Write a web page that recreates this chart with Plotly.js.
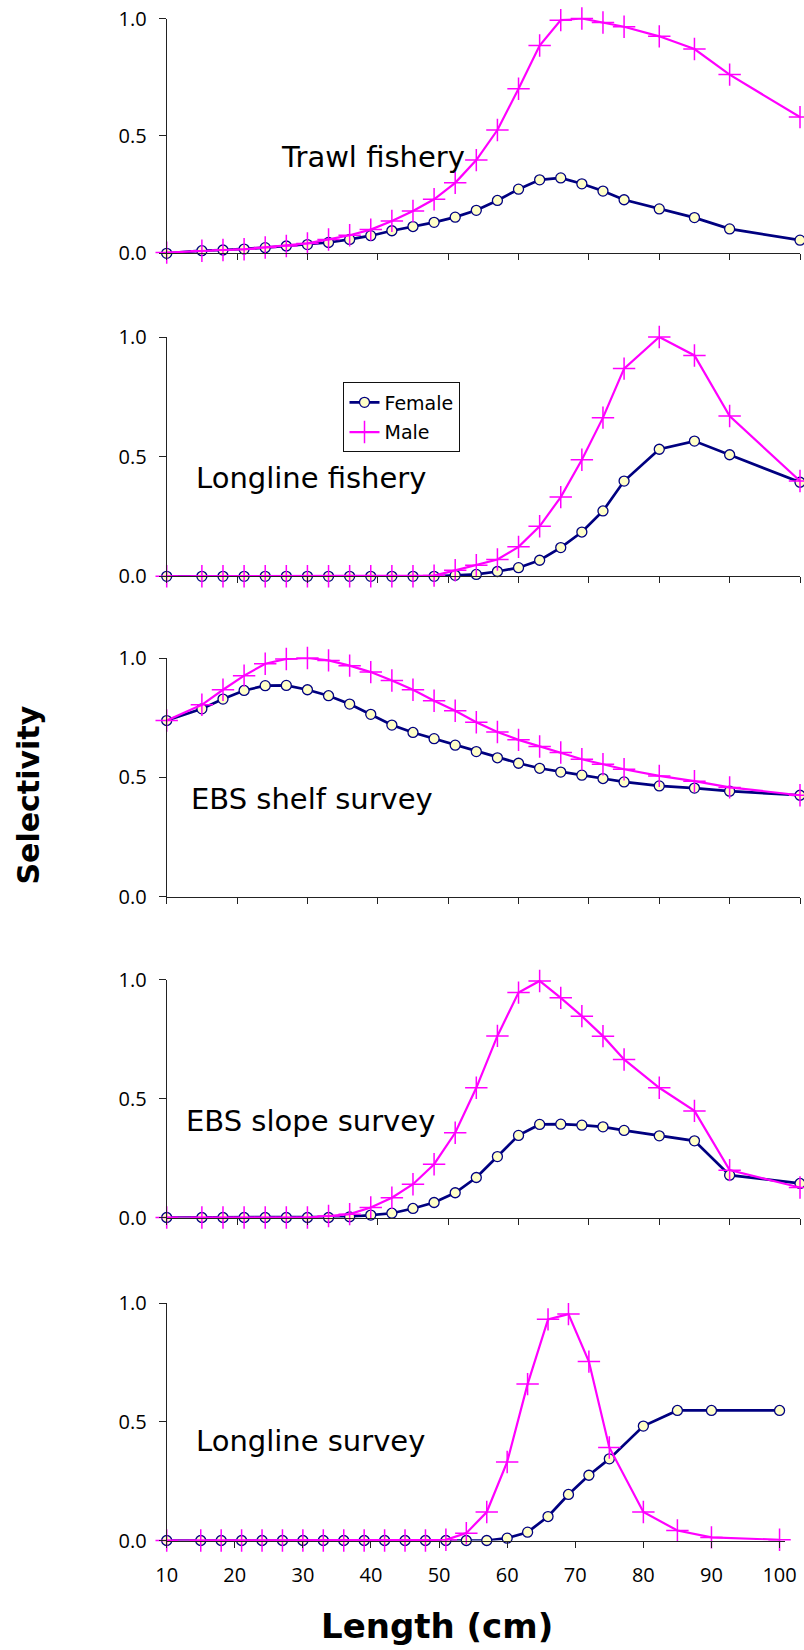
<!DOCTYPE html>
<html>
<head>
<meta charset="utf-8">
<script src="https://cdn.plot.ly/plotly-3.0.1.min.js"></script>
<style>
  html, body { margin: 0; padding: 0; background: #ffffff; }
  #chart { width: 804px; height: 1650px; }
</style>
</head>
<body>
<div id="chart"></div>
<script>
// ---- Data ----
const lengthCm = [10, 15, 18, 21, 24, 27, 30, 33, 36, 39, 42, 45, 48, 51, 54, 57, 60, 63, 66, 69, 72, 75, 80, 85, 90, 100];

const panelTitles = ["Trawl fishery", "Longline fishery", "EBS shelf survey", "EBS slope survey", "Longline survey"];
const seriesNames = ["Female", "Male"];

const trawlFemale = [0.0, 0.011, 0.014, 0.018, 0.024, 0.031, 0.037, 0.046, 0.059, 0.075, 0.096, 0.114, 0.132, 0.154, 0.183, 0.225, 0.273, 0.313, 0.321, 0.296, 0.265, 0.228, 0.189, 0.152, 0.104, 0.056];
const trawlMale   = [0.003, 0.011, 0.014, 0.017, 0.025, 0.031, 0.042, 0.059, 0.077, 0.101, 0.138, 0.180, 0.230, 0.300, 0.397, 0.525, 0.701, 0.885, 0.993, 1.0, 0.983, 0.965, 0.924, 0.870, 0.761, 0.580];

const longlineFisheryFemale = [0, 0, 0, 0, 0, 0, 0, 0, 0, 0, 0, 0, 0.0, 0.004, 0.008, 0.020, 0.036, 0.067, 0.120, 0.185, 0.273, 0.398, 0.531, 0.565, 0.508, 0.393];
const longlineFisheryMale   = [0, 0, 0, 0, 0, 0, 0, 0, 0, 0, 0, 0, 0.003, 0.025, 0.046, 0.070, 0.123, 0.209, 0.331, 0.487, 0.663, 0.868, 1.0, 0.923, 0.670, 0.398];

const shelfFemale = [0.738, 0.787, 0.828, 0.864, 0.884, 0.885, 0.867, 0.842, 0.807, 0.764, 0.719, 0.688, 0.662, 0.635, 0.608, 0.582, 0.559, 0.538, 0.522, 0.509, 0.495, 0.481, 0.464, 0.455, 0.442, 0.425];
const shelfMale   = [0.738, 0.804, 0.867, 0.926, 0.976, 0.996, 1.0, 0.990, 0.968, 0.941, 0.906, 0.867, 0.821, 0.779, 0.731, 0.690, 0.657, 0.629, 0.604, 0.576, 0.555, 0.534, 0.506, 0.484, 0.458, 0.425];

const slopeFemale = [0, 0, 0, 0, 0, 0, 0, 0, 0.003, 0.010, 0.018, 0.038, 0.063, 0.104, 0.168, 0.256, 0.345, 0.391, 0.392, 0.388, 0.381, 0.366, 0.343, 0.322, 0.178, 0.143];
const slopeMale   = [0, 0, 0, 0, 0, 0, 0, 0.006, 0.014, 0.042, 0.083, 0.140, 0.224, 0.356, 0.545, 0.763, 0.945, 0.994, 0.923, 0.846, 0.762, 0.664, 0.545, 0.448, 0.199, 0.126];

const longlineSurveyFemale = [0, 0, 0, 0, 0, 0, 0, 0, 0, 0, 0, 0, 0, 0, 0, 0, 0.010, 0.035, 0.101, 0.194, 0.275, 0.344, 0.482, 0.548, 0.548, 0.548];
const longlineSurveyMale   = [0, 0, 0, 0, 0, 0, 0, 0, 0, 0, 0, 0, 0, 0.003, 0.031, 0.120, 0.331, 0.659, 0.932, 0.954, 0.754, 0.392, 0.120, 0.042, 0.013, 0.003];

const femaleSeries = [trawlFemale, longlineFisheryFemale, shelfFemale, slopeFemale, longlineSurveyFemale];
const maleSeries   = [trawlMale, longlineFisheryMale, shelfMale, slopeMale, longlineSurveyMale];

const xTickVals = [10, 20, 30, 40, 50, 60, 70, 80, 90, 100];
const yTickVals = [0, 0.5, 1.0];
const yTickText = ["0.0", "0.5", "1.0"];

const xAxisTitle = "Length (cm)";
const yAxisTitle = "Selectivity";

// ---- Layout geometry (pixels in the 804 x 1650 page) ----
const W = 804, H = 1650;
const fx = p => p / W;
const fy = p => 1 - p / H;

const geom = [
  { top: 18.5, bot: 253.3, right: 800, xmax: 100, tx: 279, tc: 156.5 },
  { top: 337, bot: 576.3, right: 800, xmax: 100, tx: 194, tc: 478.3 },
  { top: 658, bot: 896.7, right: 800, xmax: 100, tx: 188.5, tc: 799 },
  { top: 979.5, bot: 1217.5, right: 800, xmax: 100, tx: 183.5, tc: 1120.7 },
  { top: 1303.2, bot: 1540.5, right: 785, xmax: 100.8, tx: 194, tc: 1440.7 }
];
const axisLeft = 166.7;

const tickFont = { family: "Open Sans, Liberation Sans, sans-serif", size: 20, color: "#000000" };
const navy = "#000080", magenta = "#FF00FF";

const data = [];
const layout = {
  width: W, height: H,
  margin: { l: 0, r: 0, t: 0, b: 0 },
  paper_bgcolor: "#ffffff",
  plot_bgcolor: "#ffffff",
  showlegend: true,
  legend: {
    x: fx(343.3), y: fy(382.3), xanchor: "left", yanchor: "top",
    bgcolor: "#ffffff", bordercolor: "#111111", borderwidth: 1.2,
    font: { family: "DejaVu Sans, sans-serif", size: 19, color: "#000000" },
    itemwidth: 30, tracegroupgap: 2
  },
  annotations: []
};

geom.forEach((g, i) => {
  const n = i + 1;
  const xa = n === 1 ? "x" : "x" + n;
  const ya = n === 1 ? "y" : "y" + n;
  data.push({
    type: "scatter", mode: "lines+markers", name: seriesNames[0],
    x: lengthCm, y: femaleSeries[i], xaxis: xa, yaxis: ya,
    line: { color: navy, width: 2.7 },
    marker: { symbol: "circle", size: 10, color: "#FFFFC8", line: { color: navy, width: 1.3 } },
    cliponaxis: false, showlegend: i === 0, legendgroup: "f"
  });
  data.push({
    type: "scatter", mode: "lines+markers", name: seriesNames[1],
    x: lengthCm, y: maleSeries[i], xaxis: xa, yaxis: ya,
    line: { color: magenta, width: 2.2 },
    marker: { symbol: "cross-thin", size: 16, color: magenta, line: { color: magenta, width: 1.5 } },
    cliponaxis: false, showlegend: i === 0, legendgroup: "m"
  });

  const xKey = n === 1 ? "xaxis" : "xaxis" + n;
  const yKey = n === 1 ? "yaxis" : "yaxis" + n;
  layout[xKey] = {
    domain: [fx(axisLeft), fx(g.right)],
    range: [10, g.xmax],
    anchor: ya,
    tickmode: "array", tickvals: xTickVals,
    showticklabels: n === 5,
    ticks: "outside", ticklen: 6, tickwidth: 1, tickcolor: "#222222",
    showline: true, linecolor: "#222222", linewidth: 1,
    showgrid: false, zeroline: false,
    tickfont: tickFont,
    ticklabelstandoff: 10,
    fixedrange: true
  };
  layout[yKey] = {
    domain: [fy(g.bot), fy(g.top)],
    range: [0, 1],
    anchor: xa,
    tickmode: "array", tickvals: yTickVals, ticktext: yTickText,
    ticks: "outside", ticklen: 7, tickwidth: 1, tickcolor: "#222222",
    showline: true, linecolor: "#222222", linewidth: 1,
    showgrid: false, zeroline: false,
    tickfont: tickFont,
    ticklabelstandoff: 8,
    fixedrange: true
  };
  layout.annotations.push({
    text: panelTitles[i], xref: "paper", yref: "paper",
    x: fx(g.tx), y: fy(g.tc), xanchor: "left", yanchor: "middle",
    showarrow: false,
    font: { family: "DejaVu Sans, sans-serif", size: 29, color: "#000000" }
  });
});

layout.annotations.push({
  text: "<b>" + xAxisTitle + "</b>", xref: "paper", yref: "paper",
  x: fx(436.5), y: fy(1626), xanchor: "center", yanchor: "middle",
  showarrow: false,
  font: { family: "DejaVu Sans, sans-serif", size: 34, color: "#000000" }
});
layout.annotations.push({
  text: "<b>" + yAxisTitle + "</b>", xref: "paper", yref: "paper",
  x: fx(27.5), y: fy(795), xanchor: "center", yanchor: "middle",
  textangle: -90, showarrow: false,
  font: { family: "DejaVu Sans, sans-serif", size: 30, color: "#000000" }
});

Plotly.newPlot("chart", data, layout, { displayModeBar: false, staticPlot: true });
</script>
</body>
</html>
